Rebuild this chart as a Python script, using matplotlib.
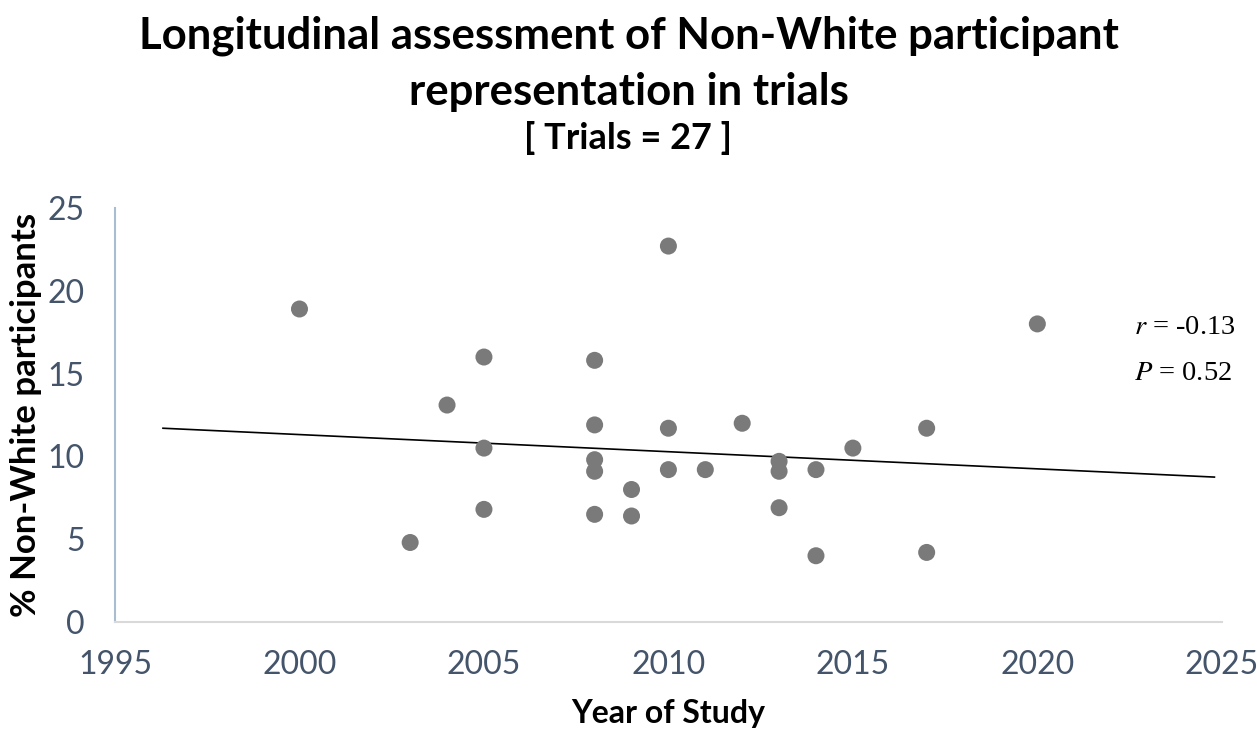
import matplotlib.pyplot as plt

plt.rcParams['font.family'] = ['Lato', 'DejaVu Sans']
plt.rcParams['mathtext.fontset'] = 'stix'

# study year and % non-white participants
years = [2000, 2003, 2004, 2005, 2005, 2005, 2008, 2008, 2008, 2008, 2008,
         2009, 2009, 2010, 2010, 2010, 2011, 2012, 2013, 2013, 2013,
         2014, 2014, 2015, 2017, 2017, 2020]
pct_nonwhite = [18.9, 4.8, 13.1, 16.0, 10.5, 6.8, 15.8, 11.9, 9.8, 9.1, 6.5,
                8.0, 6.4, 22.7, 11.7, 9.2, 9.2, 12.0, 9.7, 9.1, 6.9,
                9.2, 4.0, 10.5, 11.7, 4.2, 18.0]
x_ticks = [1995, 2000, 2005, 2010, 2015, 2020, 2025]
y_ticks = [0, 5, 10, 15, 20, 25]
# linear trendline ends as shown on the chart
trend_years = [1996.3, 2024.8]
trend_vals = [11.7, 8.75]
r_text = '-0.13'
p_text = '0.52'

tick_col = '#44546a'

fig = plt.figure(figsize=(12.57, 7.29), dpi=100)
ax = fig.add_axes([0.0915, 0.1468, 0.8805, 0.5679])

ax.scatter(years, pct_nonwhite, s=150, color='#7a7a7a', edgecolors='none', zorder=3)
ax.plot(trend_years, trend_vals, color='black', lw=1.2, zorder=2)

ax.set_xlim(1995, 2025)
ax.set_ylim(0, 25)
ax.set_xticks(x_ticks)
ax.set_yticks(y_ticks)
ax.tick_params(length=0, labelsize=23, colors=tick_col)
ax.tick_params(axis='y', pad=22)
ax.tick_params(axis='x', pad=20)

for s in ['top', 'right']:
    ax.spines[s].set_visible(False)
ax.spines['left'].set_color('#a9bdd1')
ax.spines['left'].set_linewidth(1.5)
ax.spines['bottom'].set_color('#d9d9d9')
ax.spines['bottom'].set_linewidth(1.5)

ax.set_xlabel('Year of Study', fontsize=23, fontweight='bold', labelpad=14)
ax.set_ylabel('% Non-White participants', fontsize=25, fontweight='bold', labelpad=4)

fig.text(0.5, 0.951, 'Longitudinal assessment of Non-White participant',
         ha='center', va='center', fontsize=31.5, fontweight='bold')
fig.text(0.5, 0.874, 'representation in trials',
         ha='center', va='center', fontsize=31.5, fontweight='bold')
fig.text(0.5, 0.811, '[ Trials = 27 ]', ha='center', va='center', fontsize=26, fontweight='bold')

fig.text(0.902, 0.551, r'$r$' + ' = ' + r_text, fontsize=20.5, family='Liberation Serif',
         va='center', ha='left')
fig.text(0.902, 0.488, r'$P$' + ' = ' + p_text, fontsize=20.5, family='Liberation Serif',
         va='center', ha='left')

fig.savefig('out.png', dpi=100)
